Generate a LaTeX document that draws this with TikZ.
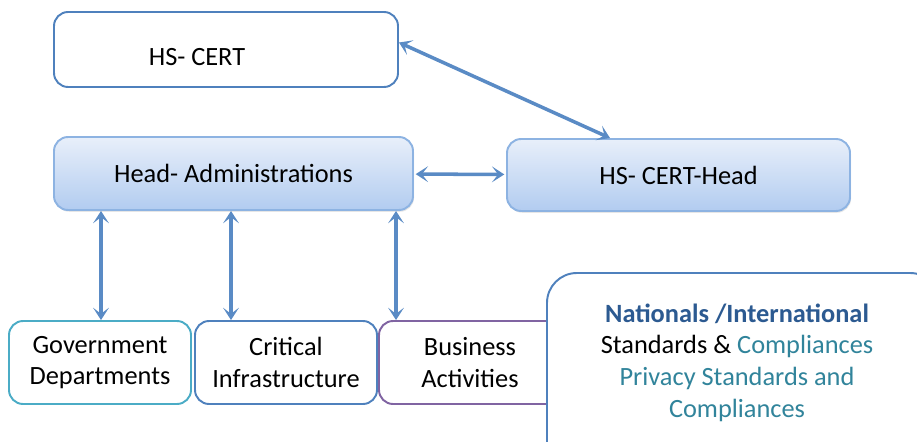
\documentclass[tikz,border=0pt]{standalone}
\usepackage{fontspec}
\setmainfont{Carlito}
\usetikzlibrary{arrows.meta,shadows}

\definecolor{linkblue}{HTML}{5A8BC5}
\definecolor{edgeblue}{HTML}{4F81BD}
\definecolor{paleedge}{HTML}{8DB3E2}
\definecolor{shadetop}{HTML}{E8EFFA}
\definecolor{shadebot}{HTML}{B2CCF0}
\definecolor{govcyan}{HTML}{4BACC6}
\definecolor{buspurple}{HTML}{8064A2}
\definecolor{navytext}{HTML}{2C5A91}
\definecolor{tealtext}{HTML}{31849B}

\begin{document}
\begin{tikzpicture}[
    every node/.style={font=\fontsize{15}{18}\selectfont},
    plainbox/.style={draw=#1, line width=1.1pt, fill=white, rounded corners=8pt, align=center},
    shadebox/.style={draw=paleedge, line width=1.1pt, rounded corners=8pt, top color=shadetop, bottom color=shadebot,
        drop shadow={opacity=0.2, shadow xshift=0.6pt, shadow yshift=-1pt}, align=center},
    link/.style={{Stealth[length=7pt,width=9pt,inset=3.5pt]}-{Stealth[length=7pt,width=9pt,inset=3.5pt]}, line width=2pt, draw=linkblue}
]
    \useasboundingbox (0,0) rectangle (18.34,-8.84);

    \node[plainbox=edgeblue, minimum width=6.88cm, minimum height=1.5cm,
        label={[xshift=-0.58cm, yshift=-0.16cm]center:HS- CERT}] (cert) at (4.52,-0.99) {};
    \node[shadebox, minimum width=7.18cm, minimum height=1.46cm] (head) at (4.67,-3.47) {Head- Administrations};
    \node[shadebox, minimum width=6.86cm, minimum height=1.44cm] (certhead) at (13.57,-3.5) {HS- CERT-Head};

    \node[plainbox=govcyan, minimum width=3.64cm, minimum height=1.66cm] (gov) at (2.0,-7.25) {Government\\Departments};
    \node[plainbox=edgeblue, minimum width=3.64cm, minimum height=1.66cm] (crit) at (5.72,-7.25) {Critical\\Infrastructure};
    \node[plainbox=buspurple, minimum width=3.64cm, minimum height=1.66cm] (bus) at (9.4,-7.25) {Business\\Activities};

    % standards panel, cut by the page edge
    \draw[edgeblue, line width=1.1pt, fill=white, rounded corners=17pt] (10.94,-9.3) -- (10.94,-5.46) -- (18.8,-5.46) -- (18.8,-9.3);
    \node[align=center] (stds) at (14.74,-7.25) {\textbf{\textcolor{navytext}{Nationals /International}}\\
        Standards \& \textcolor{tealtext}{Compliances}\\
        \textcolor{tealtext}{Privacy Standards and}\\
        \textcolor{tealtext}{Compliances}};

    \draw[link] ([yshift=0.14cm]cert.east) -- ([xshift=-1.37cm]certhead.north);
    \draw[link, shorten <=1pt, shorten >=1pt] (head) -- (certhead);
    \draw[link] ([xshift=0.02cm]gov.north) -- ([xshift=0.02cm]gov.north |- head.south);
    \draw[link] ([xshift=-1.1cm]crit.north) -- ([xshift=-1.1cm]crit.north |- head.south);
    \draw[link] ([xshift=-1.48cm]bus.north) -- ([xshift=-1.48cm]bus.north |- head.south);
\end{tikzpicture}
\end{document}
